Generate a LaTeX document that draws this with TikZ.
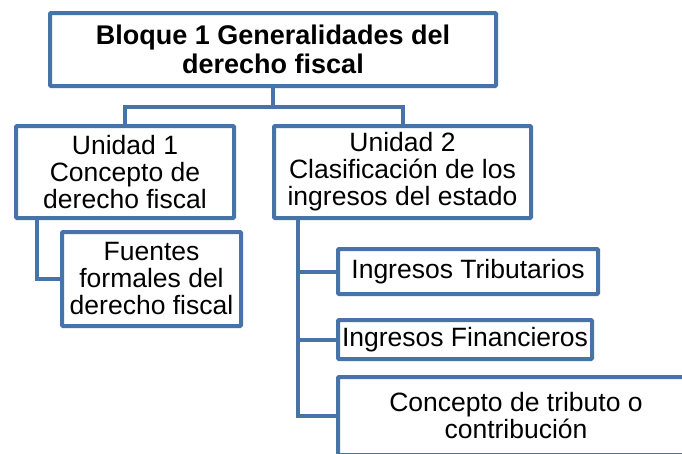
\documentclass[tikz,border=0pt]{standalone}
\usepackage{fontspec}
\setmainfont{Liberation Sans}
\definecolor{boxblue}{RGB}{72,115,168}

\begin{document}
\begin{tikzpicture}[x=1pt,y=-1pt,
    every node/.style={draw=boxblue,line width=4pt,rounded corners=1pt,fill=white,
      align=center,inner sep=0pt,font=\fontsize{26.5}{27}\selectfont},
    link/.style={draw=boxblue,line width=4pt}]
  \useasboundingbox (0,0) rectangle (682,453);
  \clip (0,0) rectangle (682,453);
  \node[minimum width=446pt,minimum height=73pt,font=\bfseries\fontsize{27}{29}\selectfont]
    (bloque) at (273,49.5) {Bloque 1 Generalidades del\\derecho fiscal};
  \node[minimum width=218pt,minimum height=92pt] (u1) at (125,172)
    {Unidad 1\\Concepto de\\derecho fiscal};
  \node[minimum width=257pt,minimum height=92pt] (u2) at (402.5,172)
    {Unidad 2\\Clasificación de los\\ingresos del estado};
  \node[minimum width=179pt,minimum height=94pt] (fuentes) at (151.5,279)
    {Fuentes\\formales del\\derecho fiscal};
  \node[minimum width=260pt,minimum height=45pt] (trib) at (468,271.5)
    {Ingresos Tributarios};
  \node[minimum width=254pt,minimum height=39pt] (fin) at (465,339.5)
    {Ingresos Financieros};
  \node[minimum width=356pt,minimum height=78pt] (conc) at (516,416)
    {Concepto de tributo o\\contribución};
  \draw[link] (bloque.south) -- ++(0,19) -| (u1.north);
  \draw[link] (bloque.south) -- ++(0,19) -| (u2.north);
  \draw[link] ([xshift=-88pt]u1.south) |- (fuentes.west);
  \draw[link] ([xshift=-104.5pt]u2.south) |- (trib.west);
  \draw[link] ([xshift=-104.5pt]u2.south) |- (fin.west);
  \draw[link] ([xshift=-104.5pt]u2.south) |- (conc.west);
\end{tikzpicture}
\end{document}
